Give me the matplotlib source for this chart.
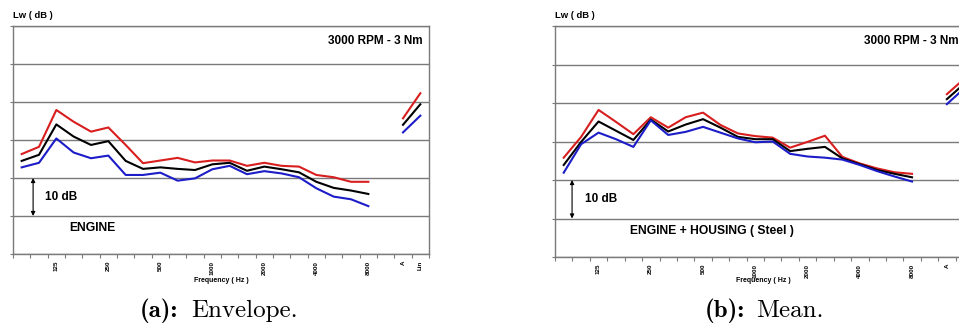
import numpy as np
import matplotlib
matplotlib.use('Agg')
import matplotlib.pyplot as plt

plt.rcParams['font.family'] = ['Liberation Sans', 'DejaVu Sans']

# 1/3 octave bands, then a gap, then A and Lin totals
freqs = ['80', '100', '125', '160', '200', '250', '315', '400', '500', '630', '800',
         '1000', '1250', '1600', '2000', '2500', '3150', '4000', '5000', '6300', '8000',
         '', 'A', 'Lin']
shown_labels = ['125', '250', '500', '1000', '2000', '4000', '8000', 'A', 'Lin']

# (a) envelope : max / mean / min
env_red = [56.3, 58.2, 67.9, 64.8, 62.2, 63.3, 58.7, 53.9, 54.6, 55.3, 54.1,
           54.6, 54.6, 53.2, 54.0, 53.2, 53.0, 50.8, 50.2, 49.0, 49.0]
env_black = [54.5, 56.1, 64.1, 60.9, 58.7, 59.7, 54.5, 52.4, 52.8, 52.4, 52.1,
             53.6, 54.0, 51.9, 53.0, 52.3, 51.5, 49.0, 47.4, 46.7, 45.8]
env_blue = [52.8, 54.0, 60.4, 56.7, 55.2, 55.9, 50.8, 50.8, 51.4, 49.3, 49.9,
            52.3, 53.2, 51.0, 51.8, 51.2, 50.2, 47.3, 45.1, 44.4, 42.6]
env_tot_red = [65.7, 72.3]
env_tot_black = [64.0, 69.4]
env_tot_blue = [62.0, 66.4]

# (b) mean
mean_red = [55.8, 61.2, 68.2, 65.1, 61.9, 66.3, 63.6, 66.3, 67.5, 64.3, 62.1,
            61.4, 61.0, 58.4, 59.9, 61.5, 56.0, 54.3, 53.0, 52.0, 51.6]
mean_black = [53.9, 59.9, 65.2, 62.8, 60.4, 65.7, 62.6, 64.4, 65.8, 63.6, 61.2,
              60.6, 60.6, 57.5, 58.1, 58.6, 55.6, 54.1, 52.6, 51.6, 50.7]
mean_blue = [51.9, 59.3, 62.3, 60.6, 58.6, 65.5, 61.7, 62.5, 63.8, 62.3, 60.8,
             59.8, 60.0, 56.8, 56.1, 55.8, 55.3, 53.9, 52.3, 50.9, 49.6]
mean_tot_red = [72.3, 76.3]
mean_tot_black = [71.0, 75.0]
mean_tot_blue = [69.7, 73.8]

W, H = 959, 324
fig = plt.figure(figsize=(W / 100, H / 100), dpi=100)

RED, BLACK, BLUE = '#d81e1e', '#000000', '#1c1cc8'
GRID = '#7a7a7a'


def panel(rect, red, black, blue, tred, tblack, tblue, name, rpm_x, arrow_x, db_x, name_x):
    left, top, right, bottom = rect
    ax = fig.add_axes([left / W, 1 - bottom / H, (right - left) / W, (bottom - top) / H])
    x = np.arange(len(red))
    xt = [freqs.index('A'), freqs.index('Lin')]
    for ys, ts, c in [(red, tred, RED), (black, tblack, BLACK), (blue, tblue, BLUE)]:
        ax.plot(x, ys, color=c, lw=1.5)
        ax.plot(xt, ts, color=c, lw=1.5)
    ax.set_xlim(-0.5, len(freqs) - 0.5)
    ax.set_ylim(30, 90)
    ax.set_yticks(np.arange(30, 91, 10))
    ax.set_yticklabels([])
    ax.yaxis.grid(True, color=GRID, lw=1.0)
    ax.tick_params(axis='y', length=2.5, color=GRID, width=0.8)
    ax.set_xticks([freqs.index(s) for s in shown_labels])
    ax.set_xticklabels(shown_labels, rotation=90, fontsize=4.5, fontweight='bold')
    ax.set_xticks(np.arange(-0.5, len(freqs), 1), minor=True)
    ax.tick_params(axis='x', which='major', length=0, pad=5)
    ax.tick_params(axis='x', which='minor', length=3, color=GRID, width=0.8)
    for s in ax.spines.values():
        s.set_color(GRID)
        s.set_linewidth(1.0)
    ax.text(rpm_x, 86, '3000 RPM - 3 Nm', fontsize=8.5, fontweight='bold',
            ha='left' if rpm_x < 20 else 'right', va='center')
    ax.annotate('', xy=(arrow_x, 40), xytext=(arrow_x, 50),
                arrowprops=dict(arrowstyle='<|-|>', color='black', lw=0.8,
                                mutation_scale=6, shrinkA=0, shrinkB=0))
    ax.text(db_x, 45, '10 dB', fontsize=8.5, fontweight='bold', va='center')
    ax.text(name_x, 36.8, name, fontsize=8.7, fontweight='bold', va='center')
    fig.text(left / W, 1 - 16 / H, 'Lw ( dB )', fontsize=6.8, fontweight='bold', va='center')
    fig.text((left + 208) / W, 1 - 281 / H, 'Frequency ( Hz )', fontsize=5,
             fontweight='bold', ha='center', va='center')
    return ax


panel((13, 26, 429, 254), env_red, env_black, env_blue,
      env_tot_red, env_tot_black, env_tot_blue, 'ENGINE', 23.16, 0.66, 1.35, 2.74)
panel((555, 26, 973, 257), mean_red, mean_black, mean_blue,
      mean_tot_red, mean_tot_black, mean_tot_blue, 'ENGINE + HOUSING ( Steel )',
      17.26, 0.48, 1.22, 3.81)

# captions: bold tag + roman text, Computer Modern look
for tag_right, txt_left, tag, txt in [(178, 191, '(a):', 'Envelope.'),
                                      (745, 756, '(b):', 'Mean.')]:
    fig.text(tag_right / W, 1 - 311 / H, tag, fontfamily='cmb10', fontsize=18,
             ha='right', va='center')
    fig.text(txt_left / W, 1 - 311 / H, txt, fontfamily='cmr10', fontsize=18,
             ha='left', va='center')

fig.savefig('out.png', dpi=100)
